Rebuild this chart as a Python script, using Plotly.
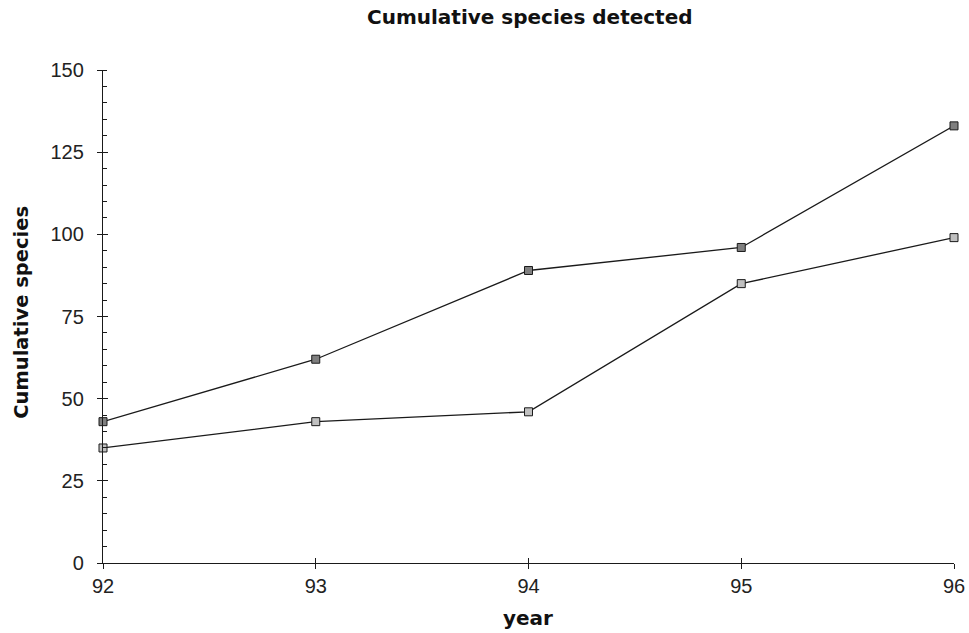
import plotly.graph_objects as go

years = [92, 93, 94, 95, 96]
series_a = [43, 62, 89, 96, 133]
series_b = [35, 43, 46, 85, 99]
y_ticks = [0, 25, 50, 75, 100, 125, 150]

FONT = "Liberation Sans, Arial, sans-serif"
TFONT = "DejaVu Sans, sans-serif"
W, H = 969, 633
L, T = 103, 70
PW, PH = 954 - 103, 563.5 - 70
R, B = W - L - PW, H - T - PH

fig = go.Figure()
fig.add_trace(go.Scatter(x=years, y=series_a, mode="lines+markers",
                         line=dict(color="#1a1a1a", width=1.3),
                         marker=dict(symbol="square", size=8, color="#7f7f7f",
                                     line=dict(color="#1a1a1a", width=1)),
                         showlegend=False, cliponaxis=False))
fig.add_trace(go.Scatter(x=years, y=series_b, mode="lines+markers",
                         line=dict(color="#1a1a1a", width=1.3),
                         marker=dict(symbol="square", size=8, color="#c0c0c0",
                                     line=dict(color="#1a1a1a", width=1)),
                         showlegend=False, cliponaxis=False))

fig.update_layout(
    width=W, height=H,
    margin=dict(l=L, r=R, t=T, b=B, autoexpand=False),
    paper_bgcolor="white", plot_bgcolor="white",
    font=dict(family=FONT, color="#222222", size=20),
    xaxis=dict(range=[92, 96], tickvals=years, ticktext=[str(v) for v in years],
               showgrid=False, zeroline=False, showline=True, linecolor="#1a1a1a",
               linewidth=1.3, ticks="outside", ticklen=5, tickcolor="#1a1a1a",
               tickwidth=1, tickfont=dict(size=20, color="#222222"),
               automargin=False),
    yaxis=dict(range=[0, 150], tickvals=y_ticks, showgrid=False, zeroline=False,
               showline=True, linecolor="#1a1a1a", linewidth=1.3,
               ticks="outside", ticklen=5, tickcolor="#1a1a1a", tickwidth=1,
               tickfont=dict(size=20, color="#222222"), ticklabelstandoff=9,
               minor=dict(dtick=5, ticks="inside", ticklen=4, tickcolor="#1a1a1a",
                          tickwidth=1, showgrid=False),
               automargin=False),
    xaxis2=dict(range=[92, 96], overlaying="x", tickvals=years, showticklabels=False,
                ticks="inside", ticklen=5, tickcolor="#1a1a1a", tickwidth=1,
                showgrid=False, zeroline=False, showline=False, side="bottom",
                anchor="y", automargin=False),
    yaxis2=dict(range=[0, 150], overlaying="y", tickvals=y_ticks, showticklabels=False,
                ticks="inside", ticklen=5, tickcolor="#1a1a1a", tickwidth=1,
                showgrid=False, zeroline=False, showline=False, side="left",
                anchor="x", automargin=False),
    annotations=[
        dict(text="<b>Cumulative species detected</b>", xref="paper", yref="paper",
             x=(530 - L) / PW, y=1 + (T - 17) / PH, xanchor="center",
             yanchor="middle", showarrow=False,
             font=dict(size=20, color="#111111", family=TFONT)),
        dict(text="<b>year</b>", xref="paper", yref="paper",
             x=(528 - L) / PW, y=-(619 - (T + PH)) / PH, xanchor="center",
             yanchor="middle", showarrow=False,
             font=dict(size=20, color="#111111", family=TFONT)),
        dict(text="<b>Cumulative species</b>", xref="paper", yref="paper",
             x=-(L - 22) / PW, y=(563.5 - 313) / PH, xanchor="center",
             yanchor="middle", textangle=-90, showarrow=False,
             font=dict(size=19.5, color="#111111", family=TFONT)),
    ],
)
fig.add_trace(go.Scatter(x=[years[0]], y=[y_ticks[0]], xaxis="x2", yaxis="y2",
                         mode="markers", marker=dict(opacity=0), showlegend=False,
                         hoverinfo="skip"))

fig.write_html("out.html", config={"displayModeBar": False},
               post_script="document.body.style.margin='0';"
                           "document.body.style.overflow='hidden';")
